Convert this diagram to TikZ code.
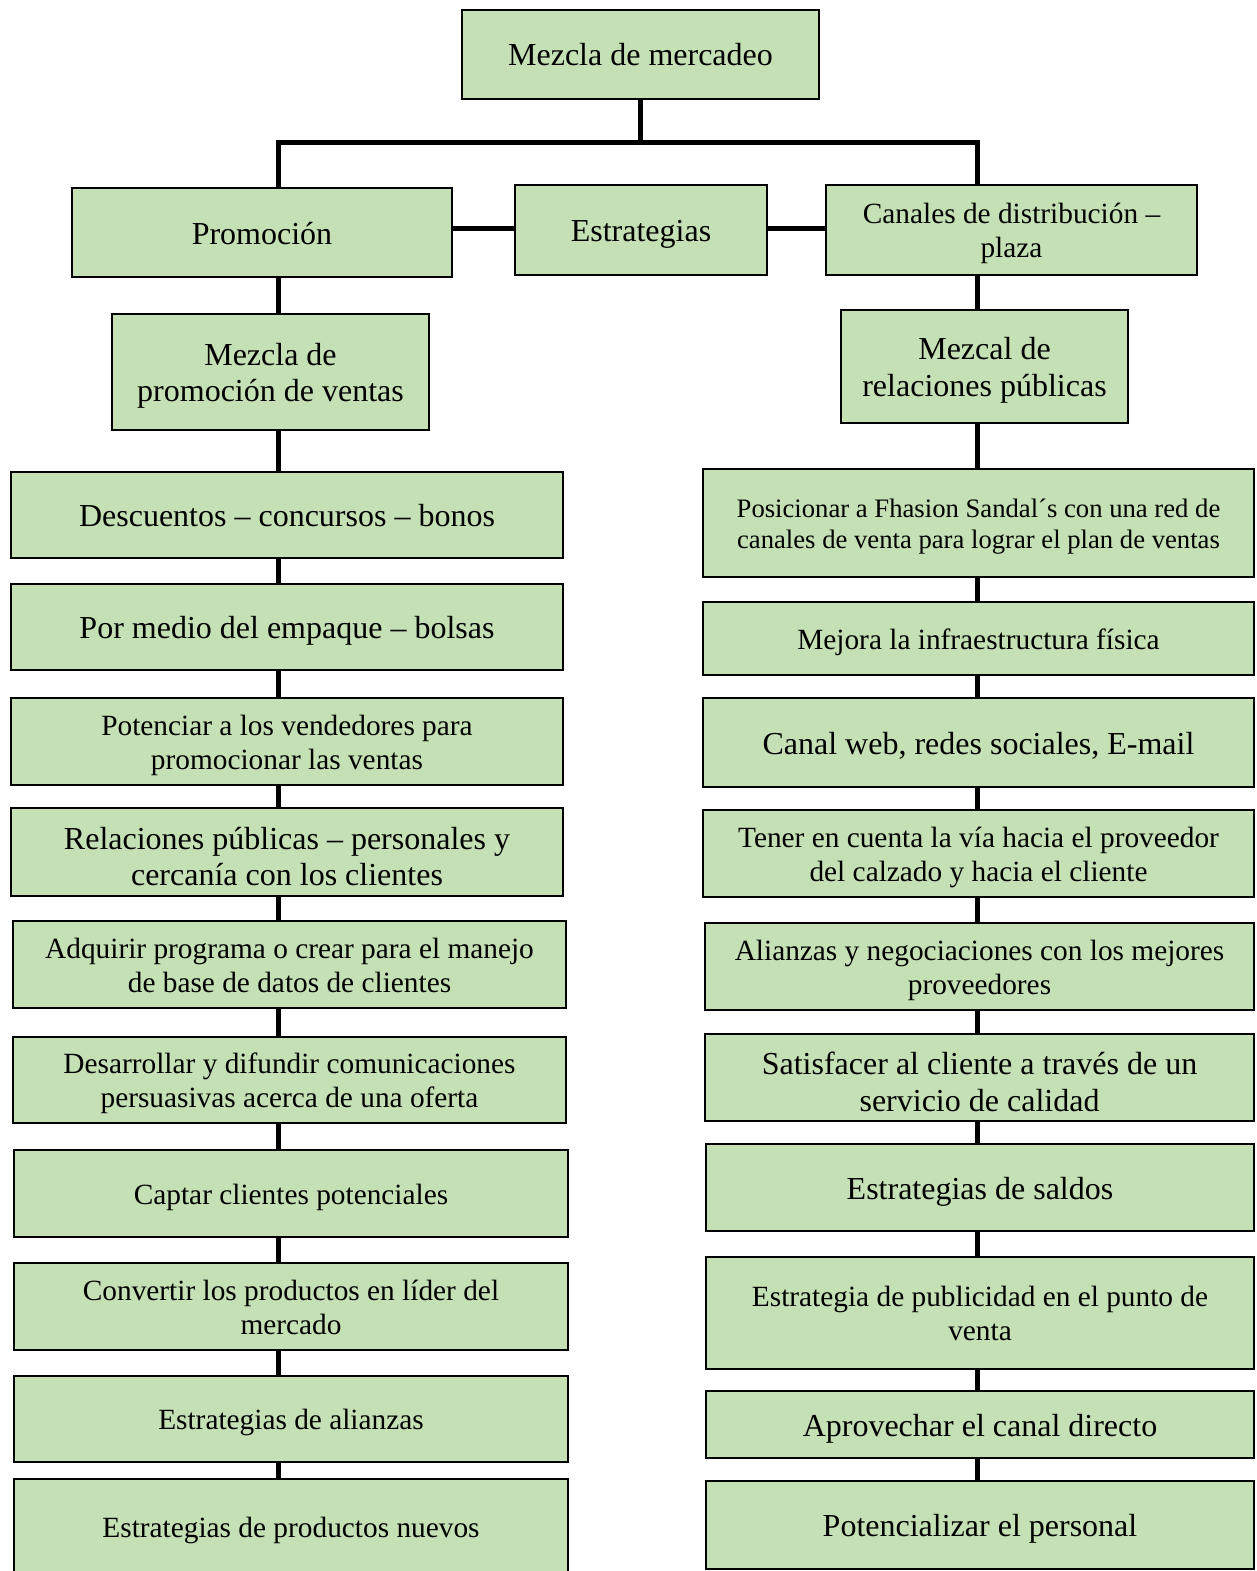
\documentclass[tikz,border=0pt]{standalone}
\usepackage{fontspec}
\setmainfont{Liberation Serif}
\definecolor{boxfill}{HTML}{C5E0B4}
\newcommand\fsz[1]{\fontsize{#1pt}{\dimexpr #1pt*115/100\relax}\selectfont}
\newcommand\fbig{\fsz{32}}
\newcommand\fmid{\fsz{29.33}}
\newcommand\fsml{\fsz{26.67}}
\newcommand\tst[1][7pt]{\rule{0pt}{\dimexpr 0.75em+#1\relax}}
\newcommand\bst{\rule[-0.25em]{0pt}{0pt}}
\tikzset{
  box/.style={draw=black, fill=boxfill, line width=2pt, align=center, inner sep=0pt, anchor=center},
  conn/.style={draw=black, line width=5pt},
}
\begin{document}
\begin{tikzpicture}[x=1pt,y=-1pt]
\useasboundingbox (0,0) rectangle (1256,1571);
% top level
\node[box, minimum width=357pt, minimum height=89pt, font=\fbig] (top) at (640.5,54.5) {\tst Mezcla de mercadeo\bst};
\node[box, minimum width=380pt, minimum height=89pt, font=\fbig] (prom) at (262,232.5) {\tst Promoción\bst};
\node[box, minimum width=252pt, minimum height=90pt, font=\fbig] (est) at (641,230) {\tst Estrategias\bst};
\node[box, minimum width=371pt, minimum height=90pt, font=\fmid] (can) at (1011.5,230) {\tst Canales de distribución –\\plaza\bst};
\node[box, minimum width=317pt, minimum height=116pt, font=\fbig] (mezp) at (270.5,372) {\tst Mezcla de\\promoción de ventas\bst};
\node[box, minimum width=287pt, minimum height=113pt, font=\fbig] (mezr) at (984.5,366.5) {\tst Mezcal de\\relaciones públicas\bst};
% left column
\node[box, minimum width=552pt, minimum height=86pt, font=\fbig] (desc) at (287,515) {\tst Descuentos – concursos – bonos\bst};
\node[box, minimum width=552pt, minimum height=86pt, font=\fbig] (porm) at (287,627) {\tst Por medio del empaque – bolsas\bst};
\node[box, minimum width=552pt, minimum height=87pt, font=\fmid] (pot) at (287,741.5) {\tst Potenciar a los vendedores para\\promocionar las ventas\bst};
\node[box, minimum width=552pt, minimum height=88pt, font=\fbig] (rel) at (287,852) {\tst[15pt]Relaciones públicas – personales y\\cercanía con los clientes\bst};
\node[box, minimum width=553pt, minimum height=87pt, font=\fmid] (adq) at (289.5,964.5) {\tst Adquirir programa o crear para el manejo\\de base de datos de clientes\bst};
\node[box, minimum width=553pt, minimum height=86pt, font=\fmid] (des) at (289.5,1080) {\tst Desarrollar y difundir comunicaciones\\persuasivas acerca de una oferta\bst};
\node[box, minimum width=554pt, minimum height=87pt, font=\fmid] (cap) at (291,1193.5) {\tst Captar clientes potenciales\bst};
\node[box, minimum width=554pt, minimum height=87pt, font=\fmid] (conv) at (291,1306.5) {\tst Convertir los productos en líder del\\mercado\bst};
\node[box, minimum width=554pt, minimum height=86pt, font=\fmid] (ali) at (291,1419) {\tst Estrategias de alianzas\bst};
\node[box, minimum width=554pt, minimum height=96pt, font=\fmid] (prodn) at (291,1527) {\tst Estrategias de productos nuevos\bst};
% right column
\node[box, minimum width=551pt, minimum height=108pt, font=\fsml] (pos) at (978.5,523) {\tst Posicionar a Fhasion Sandal´s con una red de\\canales de venta para lograr el plan de ventas\bst};
\node[box, minimum width=551pt, minimum height=73pt, font=\fmid] (mej) at (978.5,638.5) {\tst Mejora la infraestructura física\bst};
\node[box, minimum width=551pt, minimum height=89pt, font=\fbig] (web) at (978.5,742.5) {\tst Canal web, redes sociales, E-mail\bst};
\node[box, minimum width=551pt, minimum height=87pt, font=\fmid] (ten) at (978.5,853.5) {\tst Tener en cuenta la vía hacia el proveedor\\del calzado y hacia el cliente\bst};
\node[box, minimum width=549pt, minimum height=87pt, font=\fmid] (alin) at (979.5,966.5) {\tst Alianzas y negociaciones con los mejores\\proveedores\bst};
\node[box, minimum width=549pt, minimum height=87pt, font=\fbig] (sat) at (979.5,1077.5) {\tst[15pt]Satisfacer al cliente a través de un\\servicio de calidad\bst};
\node[box, minimum width=548pt, minimum height=87pt, font=\fbig] (sal) at (980,1187.5) {\tst Estrategias de saldos\bst};
\node[box, minimum width=548pt, minimum height=112pt, font=\fmid] (pub) at (980,1313) {\tst Estrategia de publicidad en el punto de\\venta\bst};
\node[box, minimum width=548pt, minimum height=67pt, font=\fbig] (apr) at (980,1424.5) {\tst Aprovechar el canal directo\bst};
\node[box, minimum width=548pt, minimum height=88pt, font=\fbig] (potp) at (980,1525) {\tst Potencializar el personal\bst};
% spine coordinates
\coordinate (ls) at (278,0);
\coordinate (rs) at (977,0);
\coordinate (bar) at (0,142);
\coordinate (hl) at (0,228);
% connectors
\draw[conn] (top.south) -- (top.south |- bar);
\draw[conn, line join=miter] (prom.north -| ls) -- (ls |- bar) -- (rs |- bar) -- (can.north -| rs);
\draw[conn] (prom.east |- hl) -- (est.west |- hl);
\draw[conn] (est.east |- hl) -- (can.west |- hl);
\foreach \a/\b in {prom/mezp, mezp/desc, desc/porm, porm/pot, pot/rel, rel/adq, adq/des, des/cap, cap/conv, conv/ali, ali/prodn}
  \draw[conn] (\a.south -| ls) -- (\b.north -| ls);
\foreach \a/\b in {can/mezr, mezr/pos, pos/mej, mej/web, web/ten, ten/alin, alin/sat, sat/sal, sal/pub, pub/apr, apr/potp}
  \draw[conn] (\a.south -| rs) -- (\b.north -| rs);
\end{tikzpicture}
\end{document}
